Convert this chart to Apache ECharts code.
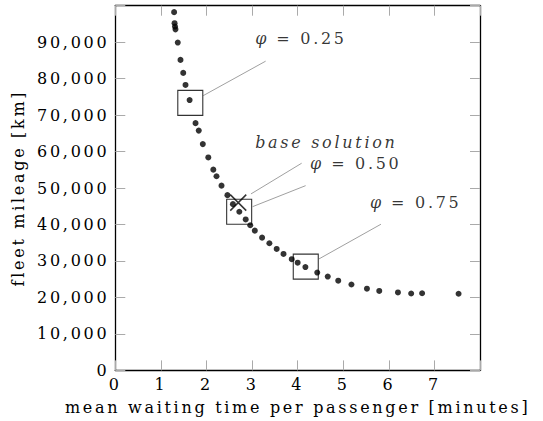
<!DOCTYPE html>
<html><head><meta charset="utf-8">
<script src="https://cdn.jsdelivr.net/npm/echarts@6/dist/echarts.min.js"></script>
<style>
html,body{margin:0;padding:0;background:#fff;}
#chart{width:543px;height:421px;}
#chart svg text{letter-spacing:2.7px;}
</style></head><body><div id="chart"></div>
<script>
// mean waiting time per passenger [minutes]
const waitTimes = [1.29,1.30,1.31,1.32,1.37,1.43,1.49,1.54,1.63,1.76,1.83,1.92,2.04,2.15,2.22,2.33,2.46,2.58,2.72,2.86,2.96,3.06,3.22,3.38,3.54,3.69,3.87,4.00,4.17,4.43,4.66,4.89,5.18,5.52,5.79,6.20,6.49,6.73,7.53];
// fleet mileage [km]
const mileage = [98230,95210,94280,93510,89890,85140,81580,78280,74120,67800,65750,62050,58400,55050,53240,50660,48060,45590,43500,41390,39800,38320,36400,34860,33300,31930,30500,29540,28340,26830,25730,24600,23560,22410,21780,21370,21090,21150,21010];

const xTickLabels = ['0','1','2','3','4','5','6','7'];
const yTickLabels = ['0','10,000','20,000','30,000','40,000','50,000','60,000','70,000','80,000','90,000'];

// annotations (data coordinates)
const boxCenters = [[1.645,73350],[2.717,43500],[4.178,28450]];
const baseSolution = [[2.697,46000]];
const leaderLines = [
  [[1.93,75350],[3.298,84790]],
  [[2.976,48390],[4.088,56810]],
  [[3.013,44900],[4.175,50660]],
  [[4.467,30560],[5.827,40080]]
];
const labelTexts = ['{i|φ}{r|= 0.25}','{b|base solution}','{i|φ}{r|= 0.50}','{i|φ}{r|= 0.75}'];
const labelPos = [[3.068,91100],[3.068,62380],[4.27,56620],[5.585,46000]];

const FONT = 'DejaVu Serif';
const tickStyle = {show:true, inside:true, length:10, lineStyle:{color:'#aaaaaa', width:1}};
const lineStyle = {show:true, onZero:false, lineStyle:{color:'#000', width:1.3}};

const chart = echarts.init(document.getElementById('chart'), null, {renderer:'svg'});
chart.setOption({
  animation:false,
  backgroundColor:'#fff',
  grid:{left:115.3, right:63, top:5.7, bottom:50.6, containLabel:false},
  xAxis:[{
    type:'value', min:0, max:8, interval:1, position:'bottom',
    axisLine:lineStyle, axisTick:tickStyle, splitLine:{show:false},
    axisLabel:{margin:6, fontFamily:FONT, fontSize:16, color:'#000', interval:0,
      formatter:v => xTickLabels[Math.round(v)] ?? ''},
    name:'mean waiting time per passenger [minutes]', nameLocation:'middle', nameGap:29,
    nameTextStyle:{fontFamily:FONT, fontSize:16, color:'#000'}
  },{
    type:'value', min:0, max:8, interval:1, position:'top',
    axisLine:lineStyle, axisTick:tickStyle, splitLine:{show:false}, axisLabel:{show:false}
  }],
  yAxis:[{
    type:'value', min:0, max:100000, interval:10000, position:'left',
    axisLine:lineStyle, axisTick:tickStyle, splitLine:{show:false},
    axisLabel:{margin:6, fontFamily:FONT, fontSize:16, color:'#000',
      formatter:v => yTickLabels[Math.round(v/10000)] ?? ''},
    name:'fleet mileage [km]', nameLocation:'middle', nameGap:89,
    nameTextStyle:{fontFamily:FONT, fontSize:16, color:'#000'}
  },{
    type:'value', min:0, max:100000, interval:10000, position:'right',
    axisLine:lineStyle, axisTick:tickStyle, splitLine:{show:false}, axisLabel:{show:false}
  }],
  series:[
    {
      type:'lines', coordinateSystem:'cartesian2d', xAxisIndex:0, yAxisIndex:0,
      data: leaderLines.map(c => ({coords:c})),
      lineStyle:{color:'#a0a0a0', width:1, opacity:1}, symbol:'none', z:2, silent:true
    },
    {
      type:'scatter', xAxisIndex:0, yAxisIndex:0,
      data: waitTimes.map((x,i) => [x, mileage[i]]),
      symbol:'circle', symbolSize:6, itemStyle:{color:'#000'}, z:3
    },
    {
      type:'scatter', data: boxCenters, symbol:'rect', symbolSize:25,
      itemStyle:{color:'none', borderColor:'#000', borderWidth:1.1}, z:4, silent:true
    },
    {
      type:'scatter', data: baseSolution, symbol:'path://M0,0L10,10M10,0L0,10', symbolSize:16,
      itemStyle:{color:'none', borderColor:'#000', borderWidth:1.5}, z:4, silent:true
    },
    {
      type:'scatter', symbolSize:0, silent:true, z:5,
      data: labelPos.map((p,i) => ({value:p, label:{formatter:labelTexts[i]}})),
      label:{show:true, position:'right', distance:0, fontFamily:FONT, fontSize:16, color:'#000',
        rich:{
          i:{fontFamily:FONT, fontStyle:'italic', fontSize:16, color:'#000', padding:[0,10,0,0]},
          r:{fontFamily:FONT, fontSize:16, color:'#000'},
          b:{fontFamily:FONT, fontStyle:'italic', fontSize:16, color:'#000'}
        }}
    }
  ]
});
</script></body></html>
